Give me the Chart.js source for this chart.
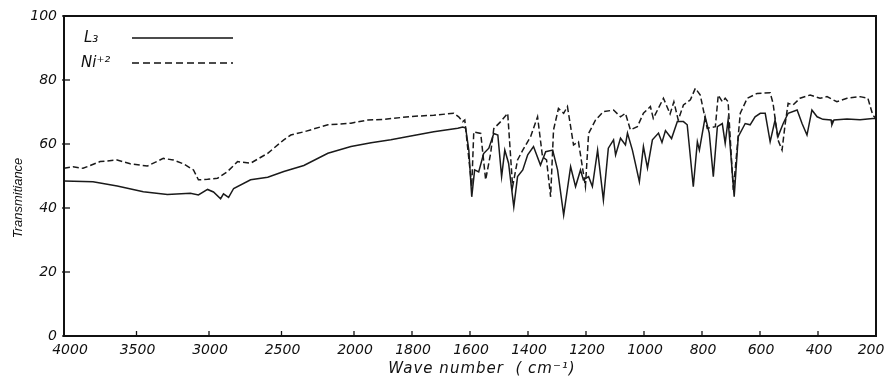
<!DOCTYPE html>
<html>
<head>
<meta charset="utf-8">
<script src="https://cdn.jsdelivr.net/npm/chart.js@4/dist/chart.umd.min.js"></script>
<style>
  html, body { margin: 0; padding: 0; background: #fff; }
  #wrap { width: 887px; height: 379px; position: relative; }
</style>
</head>
<body>
<div id="wrap"><canvas id="c" width="887" height="379"></canvas></div>
<script>
// ---- data (wavenumber in cm-1, transmittance in %) ----
const seriesNames = ['L₃', 'Ni⁺²'];

const l3Wavenumber = [4000,3800,3633,3453,3287,3128,3073,3010,2969,2920,2900,2865,2830,2713,2595,2484,2346,2180,2021,1941,1873,1804,1725,1642,1625,1615,1604,1594,1584,1570,1553,1535,1518,1504,1491,1480,1467,1449,1436,1418,1401,1381,1357,1339,1315,1298,1277,1253,1236,1219,1209,1191,1178,1160,1140,1123,1105,1098,1081,1064,1057,1040,1030,1016,1002,988,971,950,938,926,905,885,864,851,830,816,809,789,775,761,747,730,720,710,689,675,651,634,617,599,582,565,548,538,520,503,472,455,438,421,403,383,355,352,345,300,255,211,200];
const l3Transmittance = [48.4,48.2,46.9,45.1,44.2,44.6,44.1,45.8,45.0,42.9,44.4,43.3,46.1,48.8,49.6,51.4,53.3,57.1,59.2,60.4,61.3,62.5,63.8,64.9,65.3,65.0,58.0,43.5,51.9,51.3,57.0,58.7,63.3,62.8,49.8,58.1,54.0,40.4,49.8,51.9,56.6,59.2,53.4,57.6,58.1,51.9,37.8,52.9,46.7,51.9,48.8,49.8,46.7,58.1,42.5,58.7,61.3,56.6,61.8,59.7,63.4,58.1,54.0,48.2,59.2,52.5,61.3,63.4,60.5,64.2,61.7,67.0,67.0,66.0,46.7,60.7,58.1,68.5,63.4,49.8,65.4,66.4,60.2,67.5,43.5,62.3,66.4,66.0,68.5,69.6,69.6,60.7,67.5,62.3,66.4,69.6,70.6,66.4,62.8,70.6,68.5,67.7,67.5,66.0,67.5,67.8,67.6,68.0,68.0];

const niWavenumber = [4000,3938,3869,3751,3633,3543,3426,3315,3246,3176,3107,3073,3010,2941,2872,2803,2713,2595,2484,2436,2346,2180,2021,1952,1897,1804,1725,1656,1639,1625,1618,1594,1587,1563,1546,1529,1518,1494,1470,1453,1436,1418,1391,1367,1350,1336,1322,1312,1295,1277,1264,1243,1226,1209,1202,1191,1167,1140,1105,1081,1064,1047,1023,1002,978,968,933,910,897,882,864,840,823,806,782,754,744,730,720,710,692,668,644,610,565,555,538,524,513,503,486,462,427,393,369,335,300,255,228,211,200];
const niTransmittance = [52.4,52.9,52.4,54.5,55.0,53.8,53.1,55.5,55.0,53.8,51.9,48.8,49.0,49.3,51.4,54.5,54.0,57.1,61.3,62.8,63.8,66.0,66.5,67.5,67.7,68.6,69.0,69.6,68.5,67.0,67.5,46.7,63.8,63.3,48.8,57.0,64.8,67.0,69.6,46.7,55.0,58.1,62.3,68.5,56.0,55.0,43.5,64.4,71.1,69.6,71.7,59.7,60.7,50.8,46.7,63.3,67.5,70.1,70.6,68.5,69.6,64.4,65.4,69.6,71.7,68.0,74.3,69.4,73.2,67.5,72.2,73.8,77.4,75.3,64.9,65.4,75.3,73.2,74.3,73.2,45.6,69.6,74.3,75.8,76.0,72.7,61.3,58.1,66.4,72.7,72.2,74.3,75.3,74.3,74.8,73.2,74.3,74.8,74.3,69.0,68.0];

const xTickValues = [4000,3500,3000,2500,2000,1800,1600,1400,1200,1000,800,600,400,200];
const yTickValues = [0,20,40,60,80,100];
const xTitle = 'Wave number  ( cm⁻¹)';
const yTitle = 'Transmitiance';

// ---- IR-style x scale: 4000-2000 at half the scale of 2000-200 ----
const FONT = '"DejaVu Sans", sans-serif';
class BreakScale extends Chart.LinearScale {
  toU(v) { return v >= 2000 ? (4000 - v) / 2 : 1000 + (2000 - v); }
  getPixelForValue(v) {
    if (v === null || v === undefined || isNaN(v)) return NaN;
    return this.getPixelForDecimal(this.toU(v) / 2800);
  }
  getValueForPixel(p) {
    const u = this.getDecimalForPixel(p) * 2800;
    return u <= 1000 ? 4000 - 2 * u : 2000 - (u - 1000);
  }
}
BreakScale.id = 'breakx';
BreakScale.defaults = Chart.LinearScale.defaults;
Chart.register(BreakScale);

const toPoints = (xs, ys) => xs.map((x, i) => ({ x: x, y: ys[i] }));

const framePlugin = {
  id: 'frame',
  afterDraw(chart) {
    const { ctx, chartArea: a, scales } = chart;
    ctx.save();
    ctx.strokeStyle = '#111';
    ctx.fillStyle = '#111';
    ctx.lineWidth = 2;
    ctx.strokeRect(a.left, a.top, a.right - a.left, a.bottom - a.top);
    ctx.lineWidth = 1.3;
    // inward ticks + x tick labels
    ctx.font = 'italic 14px ' + FONT;
    ctx.textAlign = 'center';
    ctx.textBaseline = 'top';
    xTickValues.forEach((v, i) => {
      const px = scales.x.getPixelForValue(v);
      ctx.beginPath(); ctx.moveTo(px, a.bottom); ctx.lineTo(px, a.bottom - 5); ctx.stroke();
      const shift = i === 0 ? 6 : (i === xTickValues.length - 1 ? -5 : 1);
      ctx.fillText(String(v), px + shift, a.bottom + 7);
    });
    yTickValues.forEach(v => {
      const py = scales.y.getPixelForValue(v);
      ctx.beginPath(); ctx.moveTo(a.left - 2, py); ctx.lineTo(a.left + 6, py); ctx.stroke();
    });
    // legend
    ctx.font = 'italic 15px ' + FONT;
    ctx.textBaseline = 'middle';
    ctx.textAlign = 'left';
    ctx.fillText(seriesNames[0], 84, 38);
    ctx.fillText(seriesNames[1], 81, 63);
    ctx.lineWidth = 1.4;
    ctx.beginPath(); ctx.moveTo(132, 38); ctx.lineTo(233, 38); ctx.stroke();
    ctx.setLineDash([7, 4]);
    ctx.beginPath(); ctx.moveTo(132, 63); ctx.lineTo(233, 63); ctx.stroke();
    ctx.setLineDash([]);
    // axis titles
    ctx.font = 'italic 15px ' + FONT;
    ctx.textAlign = 'center';
    ctx.letterSpacing = '1px';
    ctx.fillText(xTitle, 482, 369);
    ctx.letterSpacing = '0px';
    ctx.save();
    ctx.translate(18, 198);
    ctx.rotate(-Math.PI / 2);
    ctx.font = 'italic 13px "Liberation Sans", sans-serif';
    ctx.fillText(yTitle, 0, 0);
    ctx.restore();
    ctx.restore();
  }
};

new Chart(document.getElementById('c'), {
  type: 'line',
  data: {
    datasets: [
      { label: seriesNames[0], data: toPoints(l3Wavenumber, l3Transmittance),
        borderColor: '#1a1a1a', borderWidth: 1.5, pointRadius: 0, tension: 0, fill: false },
      { label: seriesNames[1], data: toPoints(niWavenumber, niTransmittance),
        borderColor: '#1a1a1a', borderWidth: 1.5, borderDash: [6, 3], pointRadius: 0, tension: 0, fill: false }
    ]
  },
  options: {
    responsive: false,
    animation: false,
    layout: { padding: { left: 0, right: 11, top: 16, bottom: 0 } },
    plugins: { legend: { display: false }, tooltip: { enabled: false } },
    scales: {
      x: {
        type: 'breakx', min: 200, max: 4000,
        grid: { display: false, drawTicks: false },
        border: { display: false },
        afterBuildTicks: s => { s.ticks = xTickValues.map(v => ({ value: v })); },
        afterFit: s => { s.height = 43; s.paddingLeft = 0; s.paddingRight = 0; },
        ticks: { display: false }
      },
      y: {
        min: 0, max: 100,
        grid: { display: false, drawTicks: false },
        border: { display: false },
        afterBuildTicks: s => { s.ticks = yTickValues.map(v => ({ value: v })); },
        afterFit: s => { s.width = 64; s.paddingTop = 0; s.paddingBottom = 0; },
        ticks: { padding: 7, color: '#111',
          font: { family: FONT, size: 14, style: 'italic' }, callback: v => String(v) }
      }
    }
  },
  plugins: [framePlugin]
});
</script>
</body>
</html>
